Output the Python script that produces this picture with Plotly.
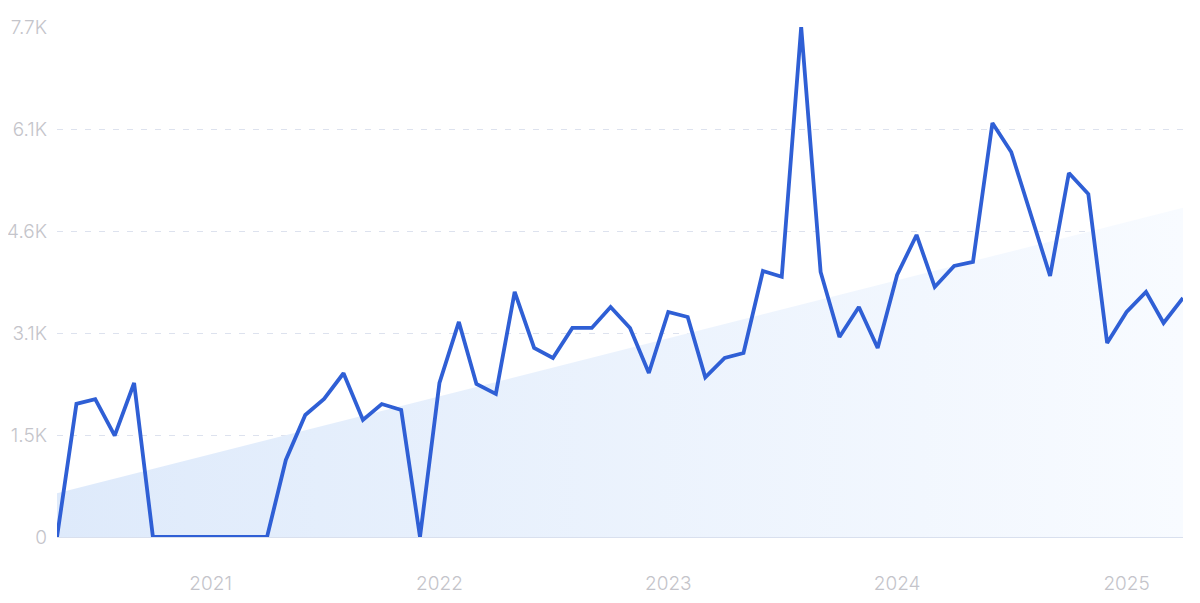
import plotly.graph_objects as go
import pandas as pd

months = pd.date_range("2020-05-01", "2025-04-01", freq="MS").strftime("%Y-%m-%d").tolist()
values = [0, 2010, 2080, 1530, 2325, 0, 0, 0, 0, 0, 0, 0,
          1163, 1842, 2084, 2472, 1767, 2008, 1918, 0, 2325, 3247, 2310, 2160,
          3700, 2854, 2703, 3156, 3156, 3473, 3156, 2476, 3398, 3322, 2410, 2703,
          2778, 4017, 3930, 7700, 4002, 3020, 3473, 2854, 3956, 4560, 3775, 4092,
          4153, 6251, 5813, 4880, 3941, 5496, 5179, 2929, 3398, 3700, 3231, 3609]
trend_x = [months[0], months[-1]]
trend_y = [660, 4970]
ytick_vals = [0, 1540, 3080, 4620, 6160, 7700]
ytick_text = ["0", "1.5K", "3.1K", "4.6K", "6.1K", "7.7K"]
xtick_vals = ["2021-01-01", "2022-01-01", "2023-01-01", "2024-01-01", "2025-01-01"]
xtick_text = ["2021", "2022", "2023", "2024", "2025"]

fig = go.Figure()
fig.add_trace(go.Scatter(
    x=trend_x, y=trend_y, mode="lines", line=dict(width=0),
    fill="tozeroy",
    fillgradient=dict(type="horizontal",
                      colorscale=[[0, "#deeafb"], [1, "#f8fbff"]]),
    hoverinfo="skip", showlegend=False,
))
fig.add_trace(go.Scatter(
    x=months, y=values, mode="lines",
    line=dict(color="#2f5fd5", width=3.8),
    cliponaxis=False, showlegend=False,
))

axis_font = dict(family="Inter, Open Sans, sans-serif", size=19, weight=300, color="#c4c4ca")
fig.update_layout(
    width=1200, height=603,
    margin=dict(l=49, r=25, t=19, b=74, autoexpand=False),
    paper_bgcolor="white", plot_bgcolor="white",
    xaxis=dict(
        range=[months[0], months[-1]], automargin=False,
        tickvals=xtick_vals, ticktext=xtick_text,
        tickfont=axis_font, showgrid=False, zeroline=False,
        ticks="", ticklabelstandoff=33,
        showline=False,
    ),
    yaxis=dict(
        range=[0, 7700], automargin=False,
        tickvals=ytick_vals, ticktext=ytick_text,
        tickfont=axis_font, showgrid=True,
        gridcolor="#dde2ee", griddash="6px,8px", gridwidth=1,
        zeroline=True, zerolinecolor="#d9e0ee", zerolinewidth=1.5,
        ticks="", ticklabelstandoff=9,
    ),
)
fig.write_html("out.html")
